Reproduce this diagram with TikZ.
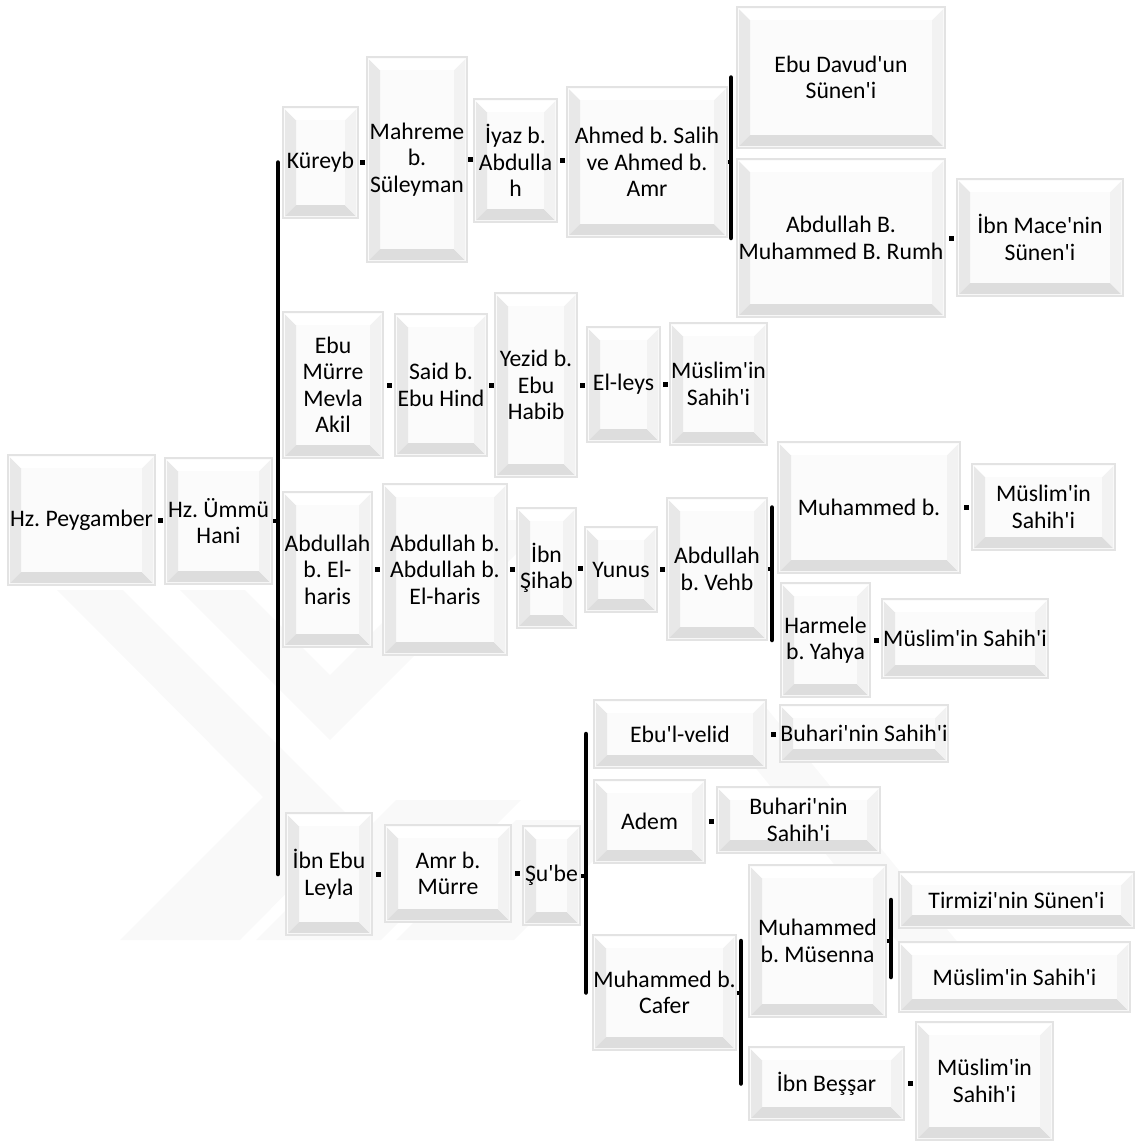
\documentclass[tikz,border=0pt]{standalone}
\usepackage{fontspec}
\usetikzlibrary{positioning}
\newfontfamily\carlito{Carlito}
\frenchspacing

\tikzset{
  rbox/.style 2 args={minimum width=#1, minimum height=#2, inner sep=0pt,
    align=center, font=\carlito\fontsize{23.7}{26.5}\selectfont,
    fill=gray!3, draw=gray!22, line width=1.5pt,
    path picture={
      \path (path picture bounding box.south west) coordinate (sw)
            (path picture bounding box.south east) coordinate (se)
            (path picture bounding box.north east) coordinate (ne)
            (path picture bounding box.north west) coordinate (nw);
      % bevel: left, bottom, right, top
      \fill[gray!18] ([shift={(2pt,2pt)}]sw) -- ([shift={(2pt,-2pt)}]nw)
        -- ([shift={(13pt,-13pt)}]nw) -- ([shift={(13pt,13pt)}]sw) -- cycle;
      \fill[gray!27] ([shift={(2pt,2pt)}]sw) -- ([shift={(13pt,13pt)}]sw)
        -- ([shift={(-13pt,13pt)}]se) -- ([shift={(-2pt,2pt)}]se) -- cycle;
      \fill[gray!10] ([shift={(-2pt,2pt)}]se) -- ([shift={(-13pt,13pt)}]se)
        -- ([shift={(-13pt,-13pt)}]ne) -- ([shift={(-2pt,-2pt)}]ne) -- cycle;
      \fill[white] ([shift={(2pt,-2pt)}]nw) -- ([shift={(-2pt,-2pt)}]ne)
        -- ([shift={(-13pt,-13pt)}]ne) -- ([shift={(13pt,-13pt)}]nw) -- cycle;
    }},
  sq/.style={fill=black, minimum size=5pt, inner sep=0pt},
  brk/.style={line width=4.5pt, line cap=round},
  tick/.style={line width=4pt},
  wm/.style={fill=gray!5}
}

\begin{document}
\begin{tikzpicture}[x=1pt,y=-1pt]
  \useasboundingbox (0,0) rectangle (1135,1144);

  % faint watermark
  \fill[wm] (57,590) -- (123,590) -- (356,823) -- (240,940) -- (120,940) -- (263,797) -- cycle;
  \fill[wm] (180,590) -- (245,590) -- (330,675) -- (485,520) -- (550,520) -- (330,740) -- cycle;
  \fill[wm] (256,940) -- (381,940) -- (521,800) -- (396,800) -- cycle;
  \fill[wm] (396,940) -- (514,940) -- (634,820) -- (516,820) -- cycle;
  \fill[wm] (700,700) -- (760,700) -- (960,945) -- (900,945) -- cycle;

  % boxes
  \node[rbox={147}{130}] (pey)     at (81.5,520)   {Hz. Peygamber};
  \node[rbox={107}{126}] (hani)    at (218.5,521)  {Hz. Ümmü\\Hani};
  \node[rbox={75}{111}]  (kureyb)  at (320.5,162.5) {Küreyb};
  \node[rbox={100}{205}] (mahreme) at (417,159.5)  {Mahreme\\b.\\Süleyman};
  \node[rbox={83}{123}]  (iyaz)    at (515.5,160.5) {İyaz b.\\Abdulla\\h};
  \node[rbox={160}{150}] (ahmed)   at (647,162)    {Ahmed b. Salih\\ve Ahmed b.\\Amr};
  \node[rbox={208}{141}] (davud)   at (841,77.5)   {Ebu Davud'un\\Sünen'i};
  \node[rbox={208}{158}] (rumh)    at (841,238)    {Abdullah B.\\Muhammed B. Rumh};
  \node[rbox={166}{117}] (mace)    at (1040,237.5) {İbn Mace'nin\\Sünen'i};
  \node[rbox={100}{146}] (akil)    at (333,385)    {Ebu\\Mürre\\Mevla\\Akil};
  \node[rbox={92}{142}]  (said)    at (441,385)    {Said b.\\Ebu Hind};
  \node[rbox={82}{184}]  (yezid)   at (536,385)    {Yezid b.\\Ebu\\Habib};
  \node[rbox={73}{115}]  (leys)    at (623.5,384.5) {El-leys};
  \node[rbox={97}{122}]  (muslimA) at (718.5,384)  {Müslim'in\\Sahih'i};
  \node[rbox={89}{155}]  (harisA)  at (327.5,569.5) {Abdullah\\b. El-\\haris};
  \node[rbox={124}{171}] (harisB)  at (445,569.5)  {Abdullah b.\\Abdullah b.\\El-haris};
  \node[rbox={59}{120}]  (sihab)   at (546.5,568)  {İbn\\Şihab};
  \node[rbox={72}{85}]   (yunus)   at (621,569.5)  {Yunus};
  \node[rbox={100}{142}] (vehb)    at (717,569)    {Abdullah\\b. Vehb};
  \node[rbox={182}{131}] (muhB)    at (869,507.5)  {Muhammed b.};
  \node[rbox={143}{86}]  (muslimB) at (1043.5,507) {Müslim'in\\Sahih'i};
  \node[rbox={89}{114}]  (harmele) at (825.5,640)  {Harmele\\b. Yahya};
  \node[rbox={166}{79}]  (muslimC) at (965,638.5)  {Müslim'in Sahih'i};
  \node[rbox={86}{122}]  (leyla)   at (329,874)    {İbn Ebu\\Leyla};
  \node[rbox={126}{97}]  (amr)     at (448,873.5)  {Amr b.\\Mürre};
  \node[rbox={57}{99}]   (sube)    at (551.5,875.5) {Şu'be};
  \node[rbox={172}{68}]  (velid)   at (680,734)    {Ebu'l-velid};
  \node[rbox={168}{57}]  (buhariA) at (864,733.5)  {Buhari'nin Sahih'i};
  \node[rbox={111}{83}]  (adem)    at (649.5,821.5) {Adem};
  \node[rbox={163}{66}]  (buhariB) at (798.5,820)  {Buhari'nin\\Sahih'i};
  \node[rbox={143}{115}] (cafer)   at (664.5,992.5) {Muhammed b.\\Cafer};
  \node[rbox={137}{152}] (musenna) at (817.5,941)  {Muhammed\\b. Müsenna};
  \node[rbox={235}{56}]  (tirmizi) at (1016.5,900) {Tirmizi'nin Sünen'i};
  \node[rbox={231}{70}]  (muslimD) at (1014.5,977) {Müslim'in Sahih'i};
  \node[rbox={155}{73}]  (bessar)  at (826.5,1083.5) {İbn Beşşar};
  \node[rbox={137}{118}] (muslimE) at (984.5,1081) {Müslim'in\\Sahih'i};

  % small links
  \path (pey.east)     -- (pey.east -| hani.west)        node[sq,midway] {};
  \path (kureyb.east)  -- (kureyb.east -| mahreme.west)  node[sq,midway] {};
  \path (mahreme.east) -- (mahreme.east -| iyaz.west)    node[sq,midway] {};
  \path (iyaz.east)    -- (iyaz.east -| ahmed.west)      node[sq,midway] {};
  \path (rumh.east)    -- (rumh.east -| mace.west)       node[sq,midway] {};
  \path (akil.east)    -- (akil.east -| said.west)       node[sq,midway] {};
  \path (said.east)    -- (said.east -| yezid.west)      node[sq,midway] {};
  \path (yezid.east)   -- (yezid.east -| leys.west)      node[sq,midway] {};
  \path (leys.east)    -- (leys.east -| muslimA.west)    node[sq,midway] {};
  \path (harisA.east)  -- (harisA.east -| harisB.west)   node[sq,midway] {};
  \path (harisB.east)  -- (harisB.east -| sihab.west)    node[sq,midway] {};
  \path (sihab.east)   -- (sihab.east -| yunus.west)     node[sq,midway] {};
  \path (yunus.east)   -- (yunus.east -| vehb.west)      node[sq,midway] {};
  \path (muhB.east)    -- (muhB.east -| muslimB.west)    node[sq,midway] {};
  \path (harmele.east) -- (harmele.east -| muslimC.west) node[sq,midway] {};
  \path (leyla.east)   -- (leyla.east -| amr.west)       node[sq,midway] {};
  \path (amr.east)     -- (amr.east -| sube.west)        node[sq,midway] {};
  \path (velid.east)   -- (velid.east -| buhariA.west)   node[sq,midway] {};
  \path (adem.east)    -- (adem.east -| buhariB.west)    node[sq,midway] {};
  \path (bessar.east)  -- (bessar.east -| muslimE.west)  node[sq,midway] {};

  % brackets
  \coordinate (b1) at (278,0);
  \coordinate (b2) at (731,0);
  \coordinate (b3) at (772,0);
  \coordinate (b4) at (586,0);
  \coordinate (b5) at (741,0);
  \coordinate (b6) at (891,0);
  \draw[brk] (kureyb.west -| b1) -- (leyla.west -| b1);
  \draw[tick] (hani.east) -- (hani.east -| b1);
  \draw[brk] (davud.west -| b2) -- (rumh.west -| b2);
  \draw[tick] (ahmed.east) -- (ahmed.east -| b2);
  \draw[brk] (muhB.west -| b3) -- (harmele.west -| b3);
  \draw[tick] (vehb.east) -- (vehb.east -| b3);
  \draw[brk] (velid.west -| b4) -- (cafer.west -| b4);
  \draw[tick] (sube.east) -- (sube.east -| b4);
  \draw[brk] (musenna.west -| b5) -- (bessar.west -| b5);
  \draw[tick] (cafer.east) -- (cafer.east -| b5);
  \draw[brk] (tirmizi.west -| b6) -- (muslimD.west -| b6);
  \draw[tick] (musenna.east) -- (musenna.east -| b6);
\end{tikzpicture}
\end{document}
